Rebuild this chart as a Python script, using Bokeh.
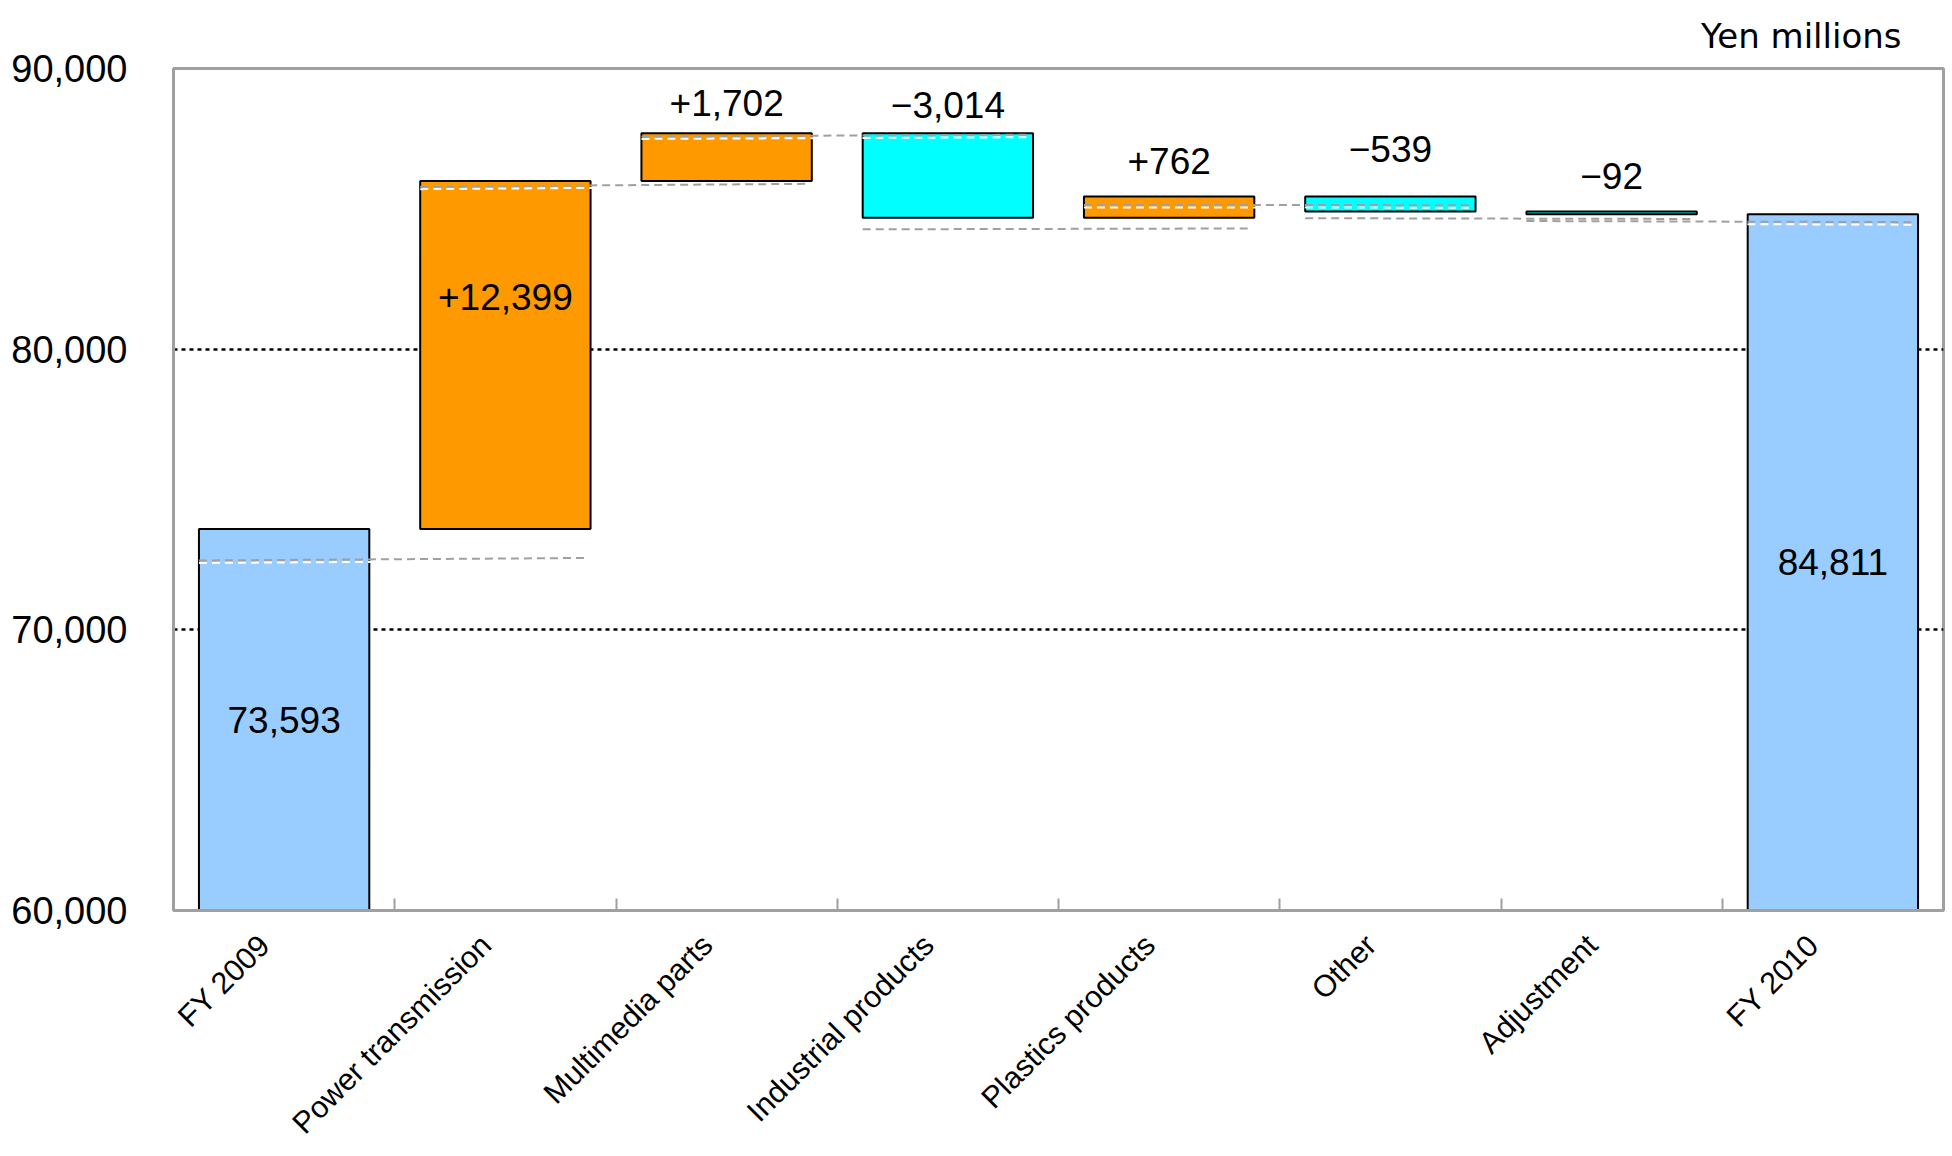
from bokeh.plotting import figure
from bokeh.models import Range1d, FixedTicker, ColumnDataSource, NumeralTickFormatter
from bokeh.core.properties import value
from bokeh.embed import file_html
from bokeh.resources import INLINE

# ---------------- data ----------------
categories = ["FY 2009", "Power transmission", "Multimedia parts", "Industrial products",
              "Plastics products", "Other", "Adjustment", "FY 2010"]
start_total = 73593
changes = [12399, 1702, -3014, 762, -539, -92]
end_total = 84811
y_ticks = [60000, 70000, 80000, 90000]
grid_levels = [70000, 80000, 90000]
unit_text = "Yen millions"
# dashed connector lines as drawn in the reference (start level, end level)
conn_start = [72470, 85790, 87580, 84270, 85140, 84665, 84565]
conn_end = [72560, 85890, 87640, 84300, 85130, 84640, 84525]

# ---------------- styles ----------------
FONT = "Liberation Sans"
BLUE, UP, DOWN, GRAY = "#99CCFF", "#FF9900", "#00FFFF", "#A0A0A0"
BAR_W = 0.77
Y0, Y1 = 60000, 90000
# vertical pixel offset of each value label relative to its anchor
label_offsets = [0, 116, -30, -28, -35, -47, -36, 0]

# ---------------- derived geometry ----------------
xs = [i + 0.5 for i in range(len(categories))]
bottoms, tops, colors, labels = [0], [start_total], [BLUE], [f"{start_total:,}"]
level = start_total
for c in changes:
    new = level + c
    bottoms.append(min(level, new))
    tops.append(max(level, new))
    colors.append(UP if c > 0 else DOWN)
    labels.append(("+" if c > 0 else "\u2212") + f"{abs(c):,}")
    level = new
bottoms.append(0)
tops.append(end_total)
colors.append(BLUE)
labels.append(f"{end_total:,}")

label_y = []
for i in range(len(categories)):
    if i == 0 or i == len(categories) - 1:
        label_y.append((Y0 + tops[i]) / 2)
    else:
        label_y.append(tops[i])

bar_src = ColumnDataSource(dict(x=xs, bottom=bottoms, top=tops, color=colors))
lab_src = ColumnDataSource(dict(x=xs, y=label_y, text=labels, yoff=label_offsets))

cx0 = [xs[i] - BAR_W / 2 for i in range(len(conn_start))]
cx1 = [xs[i + 1] + BAR_W / 2 - 0.03 for i in range(len(conn_start))]
white_shift = 2.5 * (Y1 - Y0) / 842.0
conn_src = ColumnDataSource(dict(x0=cx0, x1=cx1, y0=conn_start, y1=conn_end,
                                 wy0=[v - white_shift for v in conn_start],
                                 wy1=[v - white_shift for v in conn_end]))

# ---------------- figure ----------------
p = figure(width=1952, height=1156, x_range=Range1d(0, 8), y_range=Range1d(Y0, Y1),
           output_backend="svg", toolbar_location=None,
           min_border_left=173, min_border_right=9, min_border_top=68, min_border_bottom=246,
           background_fill_color="white", border_fill_color="white")

p.outline_line_color = GRAY
p.outline_line_width = 3
p.outline_line_alpha = 1.0

p.xgrid.visible = False
p.ygrid.ticker = FixedTicker(ticks=grid_levels)
p.ygrid.grid_line_color = "black"
p.ygrid.grid_line_dash = "4 4"
p.ygrid.grid_line_width = 2.5

# y axis
p.yaxis.ticker = FixedTicker(ticks=y_ticks)
p.yaxis.formatter = NumeralTickFormatter(format="0,0")
p.yaxis.major_label_text_font = FONT
p.yaxis.major_label_text_font_size = "38px"
p.yaxis.major_label_text_color = "black"
p.yaxis.major_tick_line_color = None
p.yaxis.minor_tick_line_color = None
p.yaxis.axis_line_color = GRAY
p.yaxis.axis_line_width = 3
p.yaxis.major_label_standoff = 40

# x axis: labels near category centres, boundary ticks as minor ticks
shift = 0.09
label_ticks = [round(x - shift, 4) for x in xs]
p.xaxis.ticker = FixedTicker(ticks=label_ticks, minor_ticks=list(range(1, len(categories))))
p.xaxis.major_label_overrides = {t: c for t, c in zip(label_ticks, categories)}
p.xaxis.major_label_orientation = 0.785398
p.xaxis.major_label_text_font = FONT
p.xaxis.major_label_text_font_size = "30.5px"
p.xaxis.major_label_text_color = "black"
p.xaxis.major_label_standoff = 29
p.xaxis.major_tick_line_color = None
p.xaxis.major_tick_out = 0
p.xaxis.major_tick_in = 0
p.xaxis.minor_tick_line_color = GRAY
p.xaxis.minor_tick_line_width = 2
p.xaxis.minor_tick_in = 12
p.xaxis.minor_tick_out = 0
p.xaxis.axis_line_color = GRAY
p.xaxis.axis_line_width = 3

# unit text at top right
p.title.text = unit_text
p.title.align = "right"
p.title.vertical_align = "top"
p.title.offset = 42
p.title.standoff = 22
p.title.text_font = "DejaVu Sans"
p.title.text_font_size = "34px"
p.title.text_font_style = "normal"
p.title.text_color = "black"

# bars
p.vbar(x="x", bottom="bottom", top="top", width=BAR_W, fill_color="color",
       line_color="black", line_width=2, source=bar_src)

# connectors: white shadow then gray dashes
p.segment(x0="x0", y0="wy0", x1="x1", y1="wy1", line_color="white", line_width=2,
          line_dash="8 5", source=conn_src)
p.segment(x0="x0", y0="y0", x1="x1", y1="y1", line_color=GRAY, line_width=2,
          line_dash="8 5", source=conn_src)

# value labels
p.text(x="x", y="y", text="text", y_offset="yoff", text_align="center",
       text_baseline="middle", text_font=value(FONT), text_font_size="37px",
       text_color="black", source=lab_src)

open("out.html", "w").write(file_html(p, INLINE))
